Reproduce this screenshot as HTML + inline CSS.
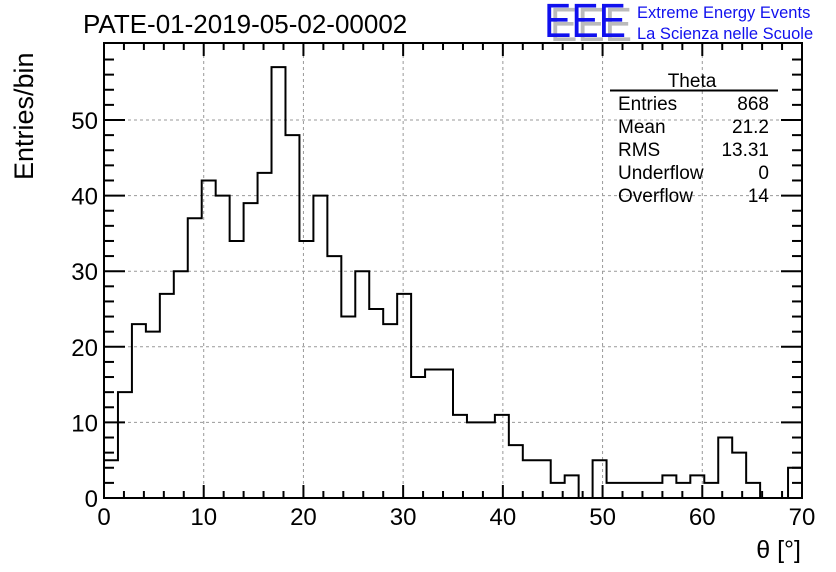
<!DOCTYPE html>
<html><head><meta charset="utf-8"><style>
body{margin:0;background:#fff;}
svg{display:block;font-family:"Liberation Sans",sans-serif;}
</style></head><body>
<svg id="chart" width="836" height="572" viewBox="0 0 836 572" xmlns="http://www.w3.org/2000/svg">
<rect width="836" height="572" fill="#fff"/>
<text x="83" y="33" font-size="26">PATE-01-2019-05-02-00002</text>
<g>
<text x="550" y="41" font-size="48" fill="#bbb" textLength="82" lengthAdjust="spacingAndGlyphs">EEE</text>
<text x="544" y="37" font-size="48" fill="#1010ee" textLength="82" lengthAdjust="spacingAndGlyphs">EEE</text>
<text x="637" y="18" font-size="16.5" fill="#1010ee">Extreme Energy Events</text>
<text x="637" y="39" font-size="16.5" fill="#1010ee">La Scienza nelle Scuole</text>
</g>
<g id="grid"></g>
<g id="axes"></g>
<path id="hist" fill="none" stroke="#000" stroke-width="2"/>
<rect x="104" y="43" width="698" height="455" fill="none" stroke="#000" stroke-width="2"/>
<g font-size="19">
<text x="692" y="87" text-anchor="middle">Theta</text>
<line x1="610" y1="90.5" x2="778" y2="90.5" stroke="#000" stroke-width="2"/>
<text x="618" y="110">Entries</text><text x="769" y="110" text-anchor="end">868</text>
<text x="618" y="133">Mean</text><text x="769" y="133" text-anchor="end">21.2</text>
<text x="618" y="156">RMS</text><text x="769" y="156" text-anchor="end">13.31</text>
<text x="618" y="179">Underflow</text><text x="769" y="179" text-anchor="end">0</text>
<text x="618" y="202">Overflow</text><text x="769" y="202" text-anchor="end">14</text>
</g>
<text x="801" y="558" font-size="25" text-anchor="end">θ [°]</text>
<text transform="translate(33,180) rotate(-90)" font-size="27" text-anchor="start">Entries/bin</text>
</svg>
<script>
const counts=[5,14,23,22,27,30,37,42,40,34,39,43,57,48,34,40,32,24,30,25,23,27,16,17,17,11,10,10,11,7,5,5,2,3,0,5,2,2,2,2,3,2,3,2,8,6,2,0,0,4];
const xTicks=[0,10,20,30,40,50,60,70];
const yTicks=[0,10,20,30,40,50];
const binWidth=1.4;
const X0=104,X1=802,Y0=498,PX=(X1-X0)/70,PY=7.56;
const sx=v=>X0+v*PX, sy=v=>Y0-v*PY;
const NS="http://www.w3.org/2000/svg";
const grid=document.getElementById('grid'),axes=document.getElementById('axes');
function mk(p,tag,at){const e=document.createElementNS(NS,tag);for(const k in at)e.setAttribute(k,at[k]);p.appendChild(e);return e;}
xTicks.forEach(t=>{
 if(t>0&&t<70){const g=mk(grid,'line',{x1:sx(t),x2:sx(t),y1:43,y2:498,stroke:'#999','stroke-dasharray':'3,3'});
 
 }
 const l=mk(axes,'text',{x:sx(t),y:525,'font-size':24,'text-anchor':'middle'});l.textContent=t;
 
 
});
yTicks.forEach(t=>{
 if(t>0){const g=mk(grid,'line',{x1:104,x2:802,y1:sy(t),y2:sy(t),stroke:'#999','stroke-dasharray':'3,3'});
 
 }
 const l=mk(axes,'text',{x:98,y:sy(t)+9,'font-size':24,'text-anchor':'end'});l.textContent=t;
 
 
});
for(let v=0;v<=70;v+=2){const L=v%10===0?13:7;
 mk(axes,'line',{x1:sx(v),x2:sx(v),y1:498,y2:498-L,stroke:'#000','stroke-width':2});
 mk(axes,'line',{x1:sx(v),x2:sx(v),y1:43,y2:43+L,stroke:'#000','stroke-width':2});}
for(let v=0;v<=58;v+=2){const L=v%10===0?21:10;
 mk(axes,'line',{x1:104,x2:104+L,y1:sy(v),y2:sy(v),stroke:'#000','stroke-width':2});
 mk(axes,'line',{x1:802,x2:802-L,y1:sy(v),y2:sy(v),stroke:'#000','stroke-width':2});}
let d='M'+sx(0)+','+sy(0);
counts.forEach((c,i)=>{d+=' L'+sx(i*binWidth)+','+sy(c)+' L'+sx((i+1)*binWidth)+','+sy(c);});
d+=' L'+sx(counts.length*binWidth)+','+sy(0);
document.getElementById('hist').setAttribute('d',d);
</script>
</body></html>
